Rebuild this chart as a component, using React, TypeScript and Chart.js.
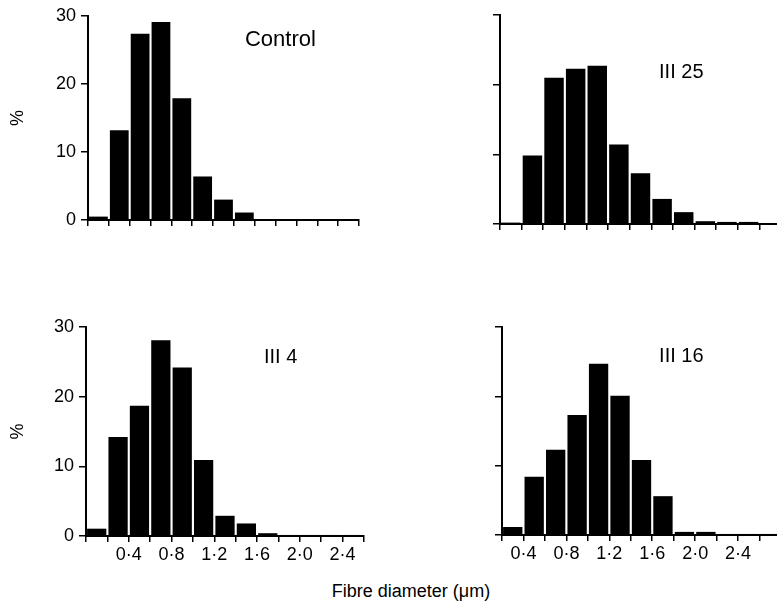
import React, { useEffect, useRef } from "react";
import { Chart, registerables } from "chart.js";

Chart.register(...registerables);

// ---- data ----
const binEdgesLeft = [0, 0.2, 0.4, 0.6, 0.8, 1.0, 1.2, 1.4, 1.6, 1.8, 2.0, 2.2, 2.4, 2.6];
const binEdgesRight = [0.2, 0.4, 0.6, 0.8, 1.0, 1.2, 1.4, 1.6, 1.8, 2.0, 2.2, 2.4, 2.6, 2.8];
const xTickValues = [0.4, 0.8, 1.2, 1.6, 2.0, 2.4];
const xTickLabels = ["0·4", "0·8", "1·2", "1·6", "2·0", "2·4"];
const yTickValues = [0, 10, 20, 30];

const controlPct = [0.5, 13.2, 27.4, 29.1, 17.9, 6.4, 3.0, 1.1, 0.15, 0.15, 0.15, 0.15, 0.15];
const iii25Pct = [0.2, 9.85, 21.0, 22.3, 22.7, 11.4, 7.3, 3.6, 1.7, 0.4, 0.3, 0.3, 0.1];
const iii4Pct = [1.05, 14.2, 18.7, 28.1, 24.2, 10.9, 2.9, 1.8, 0.4, 0.15, 0.15, 0.15, 0.15];
const iii16Pct = [1.15, 8.4, 12.3, 17.3, 24.7, 20.1, 10.8, 5.6, 0.45, 0.45, 0.15, 0.15, 0.15];

const panelNames = ["Control", "III 25", "III 4", "III 16"];
const yAxisTitle = "%";
const xAxisTitle = "Fibre diameter (μm)";

const FONT = '"Liberation Sans", Arial, Helvetica, sans-serif';

type PanelCfg = {
  name: string;
  values: number[];
  edges: number[];
  left: number;
  top: number;
  width: number;
  height: number;
  axisW: number;
  axisH: number;
  padTop: number;
  padRight: number;
  showY: boolean;
  showX: boolean;
  labelFx: number;
  labelFy: number;
  labelSize: number;
};

const panels: PanelCfg[] = [
  { name: panelNames[0], values: controlPct, edges: binEdgesLeft, left: 0, top: 0, width: 380, height: 240, axisW: 88, axisH: 20, padTop: 16, padRight: 21, showY: true, showX: false, labelFx: 0.579, labelFy: 0.118, labelSize: 22 },
  { name: panelNames[1], values: iii25Pct, edges: binEdgesRight, left: 400, top: 0, width: 400, height: 244, axisW: 100, axisH: 20, padTop: 15, padRight: 19, showY: false, showX: false, labelFx: 0.566, labelFy: 0.273, labelSize: 20 },
  { name: panelNames[2], values: iii4Pct, edges: binEdgesLeft, left: 0, top: 300, width: 380, height: 270, axisW: 86, axisH: 34, padTop: 27, padRight: 16, showY: true, showX: true, labelFx: 0.64, labelFy: 0.144, labelSize: 20 },
  { name: panelNames[3], values: iii16Pct, edges: binEdgesRight, left: 400, top: 300, width: 400, height: 270, axisW: 102, axisH: 35, padTop: 27, padRight: 19, showY: false, showX: true, labelFx: 0.563, labelFy: 0.144, labelSize: 20 },
];

function Panel({ cfg }: { cfg: PanelCfg }) {
  const ref = useRef<HTMLCanvasElement | null>(null);
  useEffect(() => {
    if (!ref.current) return;
    Chart.defaults.font.family = FONT;
    const labelPlugin = {
      id: "panelLabel",
      afterDraw(chart: any) {
        const { ctx, chartArea } = chart;
        const { left, top, right, bottom } = chartArea;
        ctx.save();
        ctx.font = `${cfg.labelSize}px ${FONT}`;
        ctx.fillStyle = "#000";
        ctx.textAlign = "left";
        ctx.textBaseline = "middle";
        ctx.fillText(cfg.name, left + cfg.labelFx * (right - left), top + cfg.labelFy * (bottom - top));
        ctx.restore();
      },
    };
    const edges = cfg.edges;
    const chart = new Chart(ref.current, {
      type: "bar",
      data: {
        datasets: [
          {
            data: cfg.values.map((v, i) => ({ x: (edges[i] + edges[i + 1]) / 2, y: v })),
            backgroundColor: "#000",
            borderWidth: 0,
            barPercentage: 0.9,
            categoryPercentage: 1,
          } as any,
        ],
      },
      options: {
        responsive: false,
        animation: false,
        devicePixelRatio: 1,
        layout: { padding: { top: cfg.padTop, right: cfg.padRight, left: 0, bottom: 0 } },
        plugins: {
          legend: { display: false },
          tooltip: { enabled: false },
          title: { display: false },
        },
        scales: {
          x: {
            type: "linear",
            min: edges[0],
            max: edges[edges.length - 1],
            offset: false,
            afterBuildTicks: (s: any) => {
              s.ticks = edges.map((v) => ({ value: v }));
            },
            afterFit: (s: any) => {
              s.height = cfg.axisH;
            },
            ticks: {
              display: cfg.showX,
              autoSkip: false,
              maxRotation: 0,
              padding: 2,
              color: "#000",
              font: { size: 18, family: FONT },
              callback: (value: any) => {
                const idx = xTickValues.findIndex((t) => Math.abs(t - Number(value)) < 1e-6);
                return idx >= 0 ? xTickLabels[idx] : "";
              },
            },
            grid: { drawOnChartArea: false, drawTicks: true, tickLength: 6, color: "#000", lineWidth: 1.5, offset: false },
            border: { display: true, color: "#000", width: 2 },
          },
          y: {
            type: "linear",
            min: 0,
            max: 30,
            afterBuildTicks: (s: any) => {
              s.ticks = yTickValues.map((v) => ({ value: v }));
            },
            afterFit: (s: any) => {
              s.width = cfg.axisW;
            },
            ticks: {
              display: cfg.showY,
              padding: 5,
              color: "#000",
              font: { size: 18, family: FONT },
              callback: (value: any) => String(value),
            },
            grid: { drawOnChartArea: false, drawTicks: true, tickLength: 7, color: "#000", lineWidth: 1.5 },
            border: { display: true, color: "#000", width: 2 },
            title: {
              display: cfg.showY,
              text: yAxisTitle,
              color: "#000",
              font: { size: 18, family: FONT },
              padding: { top: 7.5, bottom: 0 },
            },
          },
        },
      } as any,
      plugins: [labelPlugin],
    });
    return () => chart.destroy();
  }, [cfg]);
  return (
    <canvas
      ref={ref}
      width={cfg.width}
      height={cfg.height}
      style={{ position: "absolute", left: cfg.left, top: cfg.top, width: cfg.width, height: cfg.height }}
    />
  );
}

export default function App() {
  return (
    <div
      style={{
        position: "fixed",
        left: 0,
        top: 0,
        width: 777,
        height: 609,
        overflow: "hidden",
        background: "#fff",
      }}
    >
      {panels.map((p) => (
        <Panel key={p.name} cfg={p} />
      ))}
      <div
        style={{
          position: "absolute",
          left: 411,
          top: 591,
          transform: "translate(-50%, -50%)",
          whiteSpace: "nowrap",
          fontFamily: FONT,
          fontSize: 18,
          color: "#000",
        }}
      >
        {xAxisTitle}
      </div>
    </div>
  );
}
